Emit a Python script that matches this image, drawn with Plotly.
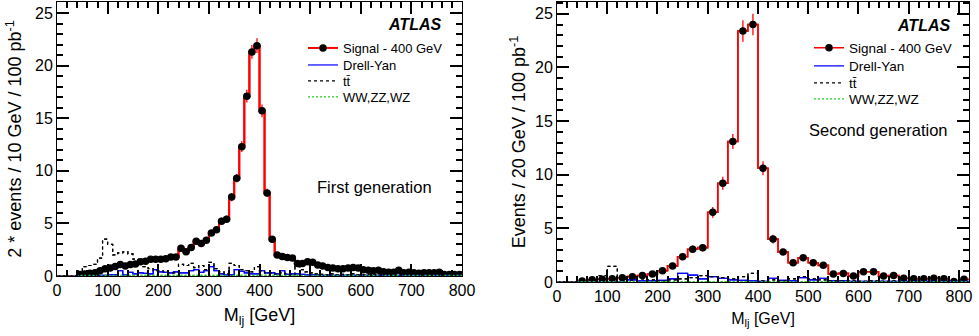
import numpy as np
import plotly.graph_objects as go

# ---------------- data: first generation (10 GeV bins, 0-800 GeV) ----------------
edges_1 = np.arange(0, 801, 10)
signal_1 = [0, 0, 0, 0,
            0.15, 0.2, 0.25, 0.3, 0.5, 0.7, 0.75, 0.9, 1.1, 0.95,
            1.1, 1.15, 1.35, 1.4, 1.6, 1.6, 1.6, 1.65, 1.8, 1.8,
            2.65, 2.3, 2.7, 3.3, 3.1, 3.4, 4.1, 4.4, 5.2, 5.4,
            7.5, 9.3, 12.3, 17.1, 21.3, 21.9, 15.7, 7.9, 3.5, 2.0,
            1.85, 1.75, 1.7, 1.2, 1.2, 1.35, 1.3, 1.05, 0.95, 0.8,
            0.75, 0.7, 0.7, 0.75, 0.8, 0.75, 0.6, 0.55, 0.5, 0.55,
            0.4, 0.35, 0.35, 0.55, 0.3, 0.35, 0.3, 0.25, 0.3, 0.3,
            0.3, 0.35, 0.15, 0.15, 0.15, 0.15]
err_1 = [0, 0, 0, 0,
         0.1, 0.1, 0.1, 0.1, 0.15, 0.15, 0.15, 0.15,
         0.2, 0.2, 0.2, 0.2, 0.2, 0.2, 0.2, 0.2, 0.2, 0.2, 0.2, 0.2,
         0.25, 0.25, 0.25,
         0.3, 0.3, 0.3, 0.3, 0.3,
         0.35, 0.35,
         0.4, 0.4,
         0.5, 0.6, 0.65, 0.7, 0.6, 0.4, 0.3,
         0.2, 0.2, 0.2, 0.2, 0.2, 0.2, 0.2, 0.2,
         0.15, 0.15, 0.15, 0.15, 0.15, 0.15, 0.15, 0.15, 0.15,
         0.1, 0.1, 0.1, 0.1, 0.1, 0.1, 0.1, 0.1, 0.1, 0.1,
         0.1, 0.1, 0.1, 0.1, 0.1, 0.1, 0.1, 0.1, 0.1, 0.1]
ttbar_1 = [0, 0, 0, 0,
           0.5, 0.9, 1.0, 1.1, 1.7, 3.5, 3.0, 2.0, 2.2, 2.3,
           2.1, 1.6, 1.1, 0.9, 0.7, 0.5, 0.5, 0.4, 0.3, 0.3,
           1.1, 1.0, 1.2, 0.8, 1.0, 0.6, 1.3, 0.7, 0.4, 0.2,
           1.2, 1.0, 0.6, 0.5, 0.4, 0.9, 0.5, 0.3, 0.3, 0.2,
           0.3, 0.2, 0.1, 0.9, 0.6, 0.4, 0.3, 0.2, 0.15, 0.1,
           0.2, 0.1, 0.15, 0.1, 0.2, 0.1, 0.1, 0.15, 0.1, 0.2,
           0.1, 0.1, 0.05, 0.2, 0.1, 0.05, 0.1, 0.1, 0.05, 0.1,
           0.05, 0.1, 0.05, 0.05, 0.05, 0.05]
dy_1 = [0, 0, 0, 0, 0, 0, 0, 0,
        0.05, 0.05, 0.1, 0.1, 0.5, 0.1, 0.35, 0.2, 0.3, 0.25, 0.2, 0.6,
        0.4, 0.35, 0.3, 0.4, 0.3, 0.3, 0.5, 0.6, 0.35, 0.5,
        0.9, 0.5, 0.2, 0.1, 0.1, 0.6, 0.45, 0.3, 0.2, 0.2,
        0.5, 0.3, 0.3, 0.2, 0.5, 0.15, 0.2, 0.2, 0.15, 0.1,
        0.1, 0.1, 0.05, 0.05, 0.05, 0.05, 0.05, 0.05, 0.05, 0.05,
        0.05, 0.05, 0.05, 0.05, 0.05, 0.05, 0.05, 0.05, 0.05, 0.05,
        0.05, 0.05, 0.05, 0.05, 0.05, 0.05, 0.05, 0.05, 0.05, 0.05]
ww_1 = [0, 0, 0, 0] + [0.05] * 76

# ---------------- data: second generation (20 GeV bins, 0-820 GeV) ----------------
edges_2 = np.arange(0, 821, 20)
signal_2 = [0, 0,
            0.1, 0.2, 0.25, 0.3, 0.4, 0.5, 0.6, 0.75, 1.05, 1.5,
            2.35, 3.05, 3.2, 6.5, 9.2, 13.1, 23.4, 24.0, 10.6, 4.0,
            2.8, 1.8, 2.25, 1.8, 1.55, 0.75, 0.8, 0.55, 0.95, 0.95,
            0.55, 0.6, 0.35, 0.3, 0.3, 0.35, 0.3, 0.05, 0.25]
err_2 = [0, 0,
         0.1, 0.1, 0.1, 0.1, 0.15, 0.15, 0.15, 0.2, 0.2, 0.25,
         0.3, 0.35, 0.35, 0.5, 0.6, 0.7, 1.0, 1.0, 0.65, 0.4,
         0.3, 0.25, 0.3, 0.25, 0.25, 0.2, 0.2, 0.15, 0.2, 0.2,
         0.15, 0.15, 0.1, 0.1, 0.1, 0.1, 0.1, 0.1, 0.1]
ttbar_2 = [0, 0,
           0.1, 0.2, 0.6, 1.45, 0.3, 0.2, 0.3, 0.2, 0.1, 0.2,
           0.3, 0.4, 0.6, 0.5, 0.4, 0.3, 0.5, 0.8, 0.1, 0.2,
           0.1, 0.3, 0.5, 0.3, 0.2, 0.1, 0.1, 0.1, 0.05, 0.1,
           0.05, 0.1, 0.05, 0.05, 0.05, 0.05, 0.05, 0.05, 0.05]
dy_2 = [0, 0, 0, 0, 0, 0, 0,
        0.2, 0.1, 0.1, 0.15, 0.3, 0.8, 0.65, 0.3, 0.5, 0.35, 0.2,
        0.15, 0.1, 0.05, 0.35, 0.15, 0.1, 0.4, 0.2, 0.35, 0.1,
        0.1, 0.05, 0.05, 0.05, 0.05, 0.05, 0.05, 0.05, 0.05, 0.05,
        0.05, 0.05, 0.05]
ww_2 = [0, 0] + [0.03] * 39

x_ticks = [0, 100, 200, 300, 400, 500, 600, 700, 800]
y_ticks = [0, 5, 10, 15, 20, 25]

assert len(signal_1) == len(err_1) == len(ttbar_1) == len(dy_1) == len(ww_1) == 80
assert len(signal_2) == len(err_2) == len(ttbar_2) == len(dy_2) == len(ww_2) == 41

FONT = "Liberation Sans, Arial, Helvetica, sans-serif"
RED, BLUE, GREEN, BLACK = "#ff0000", "#0000ff", "#22cc22", "#000000"
DASH_TT = "3px,3px"
DOT_WW = "2px,2px"

W, H = 979, 336


def px_x(p):
    return p / W


def px_y(p):
    return 1 - p / H


fig = go.Figure()


def step(edges, vals):
    xs = np.append(edges[:-1], edges[-1])
    ys = np.append(np.asarray(vals, float), vals[-1])
    return xs, ys


def add_panel(edges, sig, err, tt, dy, ww, xa, ya, legs, red_w):
    centers = 0.5 * (edges[:-1] + edges[1:])
    for vals, color, dash in [(ww, GREEN, DOT_WW), (dy, BLUE, "solid"), (tt, BLACK, DASH_TT)]:
        xs, ys = step(edges, vals)
        fig.add_trace(go.Scatter(x=xs, y=ys, mode="lines", line_shape="hv",
                                 line=dict(color=color, width=1.2, dash=dash),
                                 xaxis=xa, yaxis=ya, showlegend=False, hoverinfo="skip"))
    xs, ys = step(edges, sig)
    fig.add_trace(go.Scatter(x=xs, y=ys, mode="lines", line_shape="hv",
                             line=dict(color=RED, width=red_w),
                             xaxis=xa, yaxis=ya, showlegend=False, hoverinfo="skip"))
    sig_a = np.asarray(sig, float)
    m = sig_a > 0
    fig.add_trace(go.Scatter(x=centers[m], y=sig_a[m], mode="lines+markers",
                             line_shape="hvh", line=dict(color=RED, width=red_w),
                             marker=dict(color=BLACK, size=7.5, symbol="circle"),
                             error_y=dict(type="data", array=np.asarray(err, float)[m],
                                          color=RED, thickness=1.3, width=0),
                             name="Signal - 400 GeV", xaxis=xa, yaxis=ya, legend=legs[0]))
    for (vals, color, dash, name), lg in zip([(dy, BLUE, "solid", "Drell-Yan"),
                                              (tt, BLACK, DASH_TT, "t\u0074\u0304"),
                                              (ww, GREEN, DOT_WW, "WW,ZZ,WZ")], legs[1:]):
        xs, ys = step(edges, vals)
        fig.add_trace(go.Scatter(x=xs, y=ys, mode="lines", line_shape="hv",
                                 line=dict(color=color, width=1.2, dash=dash),
                                 name=name, xaxis=xa, yaxis=ya, legend=lg,
                                 hoverinfo="skip"))


add_panel(edges_1, signal_1, err_1, ttbar_1, dy_1, ww_1, "x", "y",
          ["legend", "legend2", "legend3", "legend4"], 2)
add_panel(edges_2, signal_2, err_2, ttbar_2, dy_2, ww_2, "x2", "y2",
          ["legend5", "legend6", "legend7", "legend8"], 1.6)

axis_common = dict(showline=True, linecolor="black", mirror="allticks",
                   ticks="inside", ticklen=12, tickcolor="black", tickwidth=1.5,
                   gridcolor="rgba(0,0,0,0)", zerolinecolor="black", zerolinewidth=1,
                   automargin=False,
                   tickfont=dict(family=FONT, size=16, color="black"))
x_dtick = x_ticks[1] - x_ticks[0]
y_dtick = y_ticks[1] - y_ticks[0]
minor_x = dict(dtick=x_dtick / 5, ticklen=6, ticks="inside", tickcolor="black")
minor_y = dict(dtick=y_dtick / 5, ticklen=6, ticks="inside", tickcolor="black")


def legend_at(xpx, ypx, size):
    return dict(x=px_x(xpx), y=px_y(ypx), xanchor="left", yanchor="middle",
                bgcolor="rgba(0,0,0,0)", font=dict(family=FONT, size=size),
                itemwidth=30, borderwidth=0)


legend_layout = {}
left_rows = [48, 65, 81, 97]
right_rows = [48, 66, 83, 99]
for i, ypx in enumerate(left_rows):
    key = "legend" if i == 0 else "legend%d" % (i + 1)
    legend_layout[key] = legend_at(303, ypx, 13)
for i, ypx in enumerate(right_rows):
    legend_layout["legend%d" % (i + 5)] = legend_at(809, ypx, 13.5)

fig.update_layout(
    width=W, height=H, margin=dict(l=0, r=0, t=0, b=0),
    paper_bgcolor="white", plot_bgcolor="white",
    font=dict(family=FONT, color="black"),
    xaxis=dict(domain=[px_x(57), px_x(462)], range=[0, 800],
               dtick=x_dtick, minor=minor_x,
               title=dict(text="M<sub>lj</sub> [GeV]", font=dict(size=18), standoff=10),
               **axis_common),
    yaxis=dict(domain=[px_y(276), px_y(2)], range=[0, 26.05],
               dtick=y_dtick, minor=minor_y,
               title=dict(text="2 * events / 10 GeV / 100 pb<sup>-1</sup>",
                          font=dict(size=18), standoff=8),
               **axis_common),
    xaxis2=dict(domain=[px_x(557), px_x(969)], range=[0, 820], anchor="y2",
                dtick=x_dtick, minor=minor_x,
                title=dict(text="M<sub>lj</sub> [GeV]", font=dict(size=16), standoff=8),
                **axis_common),
    yaxis2=dict(domain=[px_y(282), px_y(2)], range=[0, 26.1], anchor="x2",
                dtick=y_dtick, minor=minor_y,
                title=dict(text="Events / 20 GeV / 100 pb<sup>-1</sup>",
                           font=dict(size=18), standoff=4),
                **axis_common),
    annotations=[
        dict(text="<b><i>ATLAS</i></b>", x=px_x(443), y=px_y(25), xref="paper", yref="paper",
             xanchor="right", yanchor="middle", showarrow=False,
             font=dict(family=FONT, size=16)),
        dict(text="<b><i>ATLAS</i></b>", x=px_x(952), y=px_y(26), xref="paper", yref="paper",
             xanchor="right", yanchor="middle", showarrow=False,
             font=dict(family=FONT, size=16)),
        dict(text="First generation", x=px_x(374), y=px_y(187), xref="paper", yref="paper",
             xanchor="center", yanchor="middle", showarrow=False,
             font=dict(family=FONT, size=16.5)),
        dict(text="Second generation", x=px_x(878), y=px_y(130), xref="paper", yref="paper",
             xanchor="center", yanchor="middle", showarrow=False,
             font=dict(family=FONT, size=16.5)),
    ],
    **legend_layout,
)

fig.write_html("out.html")
